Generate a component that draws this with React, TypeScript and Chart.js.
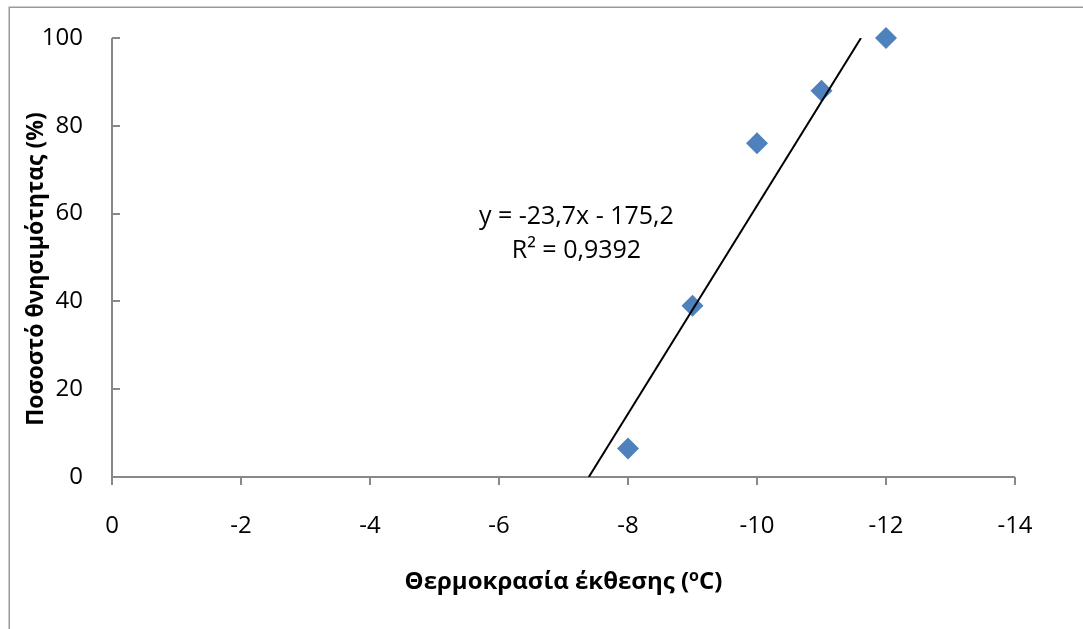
import React, { useEffect, useRef } from "react";
import { Chart, registerables } from "chart.js";

Chart.register(...registerables);

// Exposure temperature (°C) and measured mortality (%)
const temperatures = [-8, -9, -10, -11, -12];
const mortality = [6.5, 39, 76, 88, 100];

// Linear trendline y = slope * x + intercept
const slope = -23.7;
const intercept = -175.2;
const rSquared = 0.9392;

const xMin = -14;
const xMax = 0;
const xStep = 2;
const yMin = 0;
const yMax = 100;
const yStep = 20;

const yTitle = "Ποσοστό θνησιμότητας (%)";
const xTitleStart = "Θερμοκρασία έκθεσης (";
const xTitleSup = "o";
const xTitleEnd = "C)";

const FONT = "'Open Sans', 'Noto Sans', sans-serif";
const AXIS_GREY = "#888888";
const MARKER_BLUE = "#4F81BD";

const fmt = (v: number, digits: number) => v.toFixed(digits).replace(".", ",");

const equationLine = `y = ${fmt(slope, 1)}x ${intercept < 0 ? "-" : "+"} ${fmt(Math.abs(intercept), 1)}`;
const rSquaredLine = `R² = ${fmt(rSquared, 4)}`;

// Trendline endpoints where the fit crosses the bottom and top of the value axis
const trendX0 = (yMin - intercept) / slope;
const trendX1 = (yMax - intercept) / slope;
const trendPoints = [
  { x: trendX0, y: slope * trendX0 + intercept },
  { x: trendX1, y: slope * trendX1 + intercept },
];

// Where the equation label sits, in data units
const labelX = -7.2;
const labelY1 = 59.2;
const labelY2 = 51.4;

const decorations = {
  id: "decorations",
  beforeDatasetsDraw(chart: any) {
    const { ctx, chartArea, scales } = chart;
    const xs = scales.x;
    const ys = scales.y;
    ctx.save();

    // outer frame
    ctx.strokeStyle = "#9a9a9a";
    ctx.lineWidth = 1.5;
    ctx.strokeRect(9.25, 7.25, 2000, 2000);

    // axis lines
    ctx.strokeStyle = AXIS_GREY;
    ctx.lineWidth = 2;
    ctx.beginPath();
    ctx.moveTo(chartArea.left, chartArea.top);
    ctx.lineTo(chartArea.left, chartArea.bottom);
    ctx.lineTo(chartArea.right, chartArea.bottom);
    ctx.stroke();

    // value-axis ticks point inward
    ctx.beginPath();
    for (let v = yMin; v <= yMax; v += yStep) {
      const py = Math.round(ys.getPixelForValue(v));
      ctx.moveTo(chartArea.left, py);
      ctx.lineTo(chartArea.left + 8, py);
    }
    // temperature-axis ticks point outward
    for (let v = xMax; v >= xMin; v -= xStep) {
      const px = Math.round(xs.getPixelForValue(v));
      ctx.moveTo(px, chartArea.bottom);
      ctx.lineTo(px, chartArea.bottom + 8);
    }
    ctx.stroke();
    ctx.restore();
  },
  afterDraw(chart: any) {
    const { ctx, chartArea, scales } = chart;
    const xs = scales.x;
    const ys = scales.y;
    ctx.save();
    ctx.fillStyle = "#000";
    ctx.textBaseline = "middle";

    // trendline equation
    ctx.font = `25px ${FONT}`;
    ctx.textAlign = "center";
    const lx = xs.getPixelForValue(labelX);
    ctx.fillText(equationLine, lx, ys.getPixelForValue(labelY1));
    ctx.fillText(rSquaredLine, lx, ys.getPixelForValue(labelY2));

    // value-axis title
    ctx.font = `bold 23px ${FONT}`;
    ctx.save();
    ctx.translate(36, 269);
    ctx.rotate(-Math.PI / 2);
    ctx.textAlign = "center";
    ctx.fillText(yTitle, 0, 0);
    ctx.restore();

    // temperature-axis title with superscript
    const big = `bold 24px ${FONT}`;
    const small = `bold 16px ${FONT}`;
    ctx.font = big;
    const w1 = ctx.measureText(xTitleStart).width;
    const w3 = ctx.measureText(xTitleEnd).width;
    ctx.font = small;
    const w2 = ctx.measureText(xTitleSup).width;
    const total = w1 + w2 + w3;
    let x = (chartArea.left + chartArea.right) / 2 - total / 2;
    const y = 582;
    ctx.textAlign = "left";
    ctx.font = big;
    ctx.fillText(xTitleStart, x, y);
    x += w1;
    ctx.font = small;
    ctx.fillText(xTitleSup, x, y - 6);
    x += w2;
    ctx.font = big;
    ctx.fillText(xTitleEnd, x, y);

    ctx.restore();
  },
};

export default function App() {
  const canvasRef = useRef<HTMLCanvasElement | null>(null);

  useEffect(() => {
    const canvas = canvasRef.current;
    if (!canvas) return;
    const chart = new Chart(canvas, {
      type: "scatter",
      data: {
        datasets: [
          {
            label: "Θνησιμότητα",
            data: temperatures.map((t, i) => ({ x: t, y: mortality[i] })),
            pointStyle: "rectRot",
            pointRadius: 11,
            pointHoverRadius: 11,
            backgroundColor: MARKER_BLUE,
            borderColor: MARKER_BLUE,
            borderWidth: 0,
            clip: false,
            order: 1,
          },
          {
            label: "Γραμμική",
            type: "line",
            data: trendPoints,
            borderColor: "#000",
            borderWidth: 2,
            pointRadius: 0,
            fill: false,
            order: 0,
          },
        ],
      },
      options: {
        responsive: false,
        animation: false,
        devicePixelRatio: 1,
        layout: { autoPadding: false, padding: { left: 0, top: 38, right: 68, bottom: 0 } },
        plugins: {
          legend: { display: false },
          tooltip: { enabled: false },
        },
        scales: {
          x: {
            type: "linear",
            min: xMin,
            max: xMax,
            reverse: true,
            grid: { display: false, drawTicks: false },
            border: { display: false },
            ticks: {
              stepSize: xStep,
              color: "#000",
              font: { family: FONT, size: 24 },
              padding: 35,
              maxRotation: 0,
            },
            afterFit(scale: any) {
              scale.height = 152;
              scale.paddingLeft = 0;
              scale.paddingRight = 0;
            },
          },
          y: {
            type: "linear",
            min: yMin,
            max: yMax,
            grid: { display: false, drawTicks: false },
            border: { display: false },
            ticks: {
              stepSize: yStep,
              color: "#000",
              font: { family: FONT, size: 24 },
              padding: 29,
            },
            afterFit(scale: any) {
              scale.width = 112;
              scale.paddingTop = 0;
              scale.paddingBottom = 0;
            },
          },
        },
      },
      plugins: [decorations],
    });
    return () => chart.destroy();
  }, []);

  return (
    <div style={{ position: "fixed", left: 0, top: 0, width: 1083, height: 629, background: "#fff" }}>
      <canvas ref={canvasRef} width={1083} height={629} />
    </div>
  );
}
